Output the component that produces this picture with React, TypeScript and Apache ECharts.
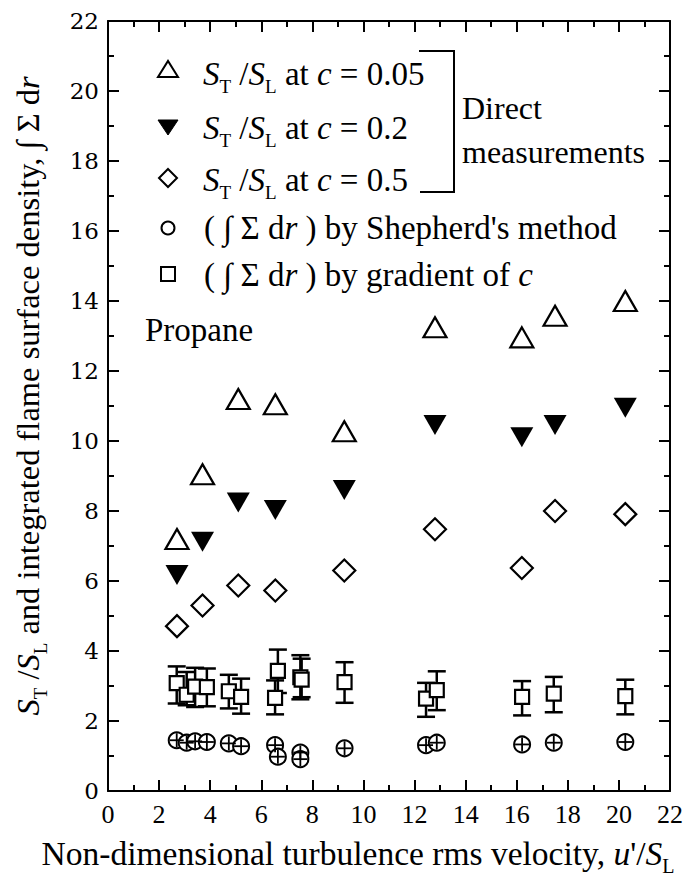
import React, { useEffect, useRef } from "react";
import * as echarts from "echarts";

// ---- data ----
const directX = [2.7, 3.7, 5.1, 6.55, 9.25, 12.8, 16.2, 17.5, 20.25];
const st005 = [7.2, 9.05, 11.2, 11.05, 10.28, 13.25, 12.96, 13.58, 14.0];
const st02 = [6.17, 7.12, 8.24, 8.03, 8.6, 10.46, 10.11, 10.46, 10.95];
const st05 = [4.71, 5.3, 5.87, 5.73, 6.3, 7.48, 6.37, 8.0, 7.91];

const shepX = [2.69, 3.08, 3.41, 3.87, 4.73, 5.21, 6.54, 6.65, 7.53, 7.53, 9.26, 12.45, 12.87, 16.21, 17.45, 20.25];
const shepY = [1.45, 1.38, 1.42, 1.4, 1.36, 1.28, 1.31, 0.98, 1.1, 0.91, 1.22, 1.31, 1.38, 1.33, 1.38, 1.4];

const gradX = [2.69, 3.08, 3.41, 3.87, 4.73, 5.21, 6.54, 6.65, 7.53, 7.58, 9.26, 12.45, 12.87, 16.21, 17.45, 20.25];
const gradY = [3.08, 2.75, 2.98, 2.97, 2.85, 2.69, 2.66, 3.43, 3.25, 3.18, 3.11, 2.64, 2.88, 2.69, 2.78, 2.71];
const gradHi = [3.56, 3.4, 3.52, 3.5, 3.32, 3.21, 3.16, 4.04, 3.88, 3.78, 3.68, 3.09, 3.42, 3.14, 3.26, 3.18];
const gradLo = [2.5, 2.45, 2.4, 2.42, 2.36, 2.21, 2.19, 2.8, 2.62, 2.68, 2.52, 2.12, 2.31, 2.16, 2.25, 2.19];

const axisMin = 0;
const axisMax = 22;
const axisStep = 2;

const SERIF = "'Liberation Serif', 'Times New Roman', serif";

const makeRich = (size: number, subSize: number, lh: number, pad: number) => ({
  n: { fontFamily: SERIF, fontSize: size, lineHeight: lh, fill: "#000" },
  i: { fontFamily: SERIF, fontSize: size, fontStyle: "italic", lineHeight: lh, fill: "#000" },
  sub: {
    fontFamily: SERIF,
    fontSize: subSize,
    lineHeight: 8,
    verticalAlign: "top",
    padding: [pad, 0, 0, 0],
    fill: "#000",
  },
});

export default function App() {
  const ref = useRef<HTMLDivElement>(null);
  useEffect(() => {
    if (!ref.current) return;
    const chart = echarts.init(ref.current, null, { renderer: "svg" });

    const axisCommon = (showLabel: boolean, labelFont: string, labelSize: number, margin: number) => ({
      type: "value" as const,
      min: axisMin,
      max: axisMax,
      interval: axisStep,
      axisLine: { show: true, onZero: false, lineStyle: { color: "#000", width: 2 } },
      axisTick: { show: true, inside: true, length: 11, lineStyle: { color: "#000", width: 2 } },
      minorTick: { show: true, splitNumber: 2, length: 6, lineStyle: { color: "#000", width: 2 } },
      splitLine: { show: false },
      minorSplitLine: { show: false },
      axisLabel: {
        show: showLabel,
        fontFamily: labelFont,
        fontSize: labelSize,
        color: "#000",
        margin,
      },
    });

    const legRich = makeRich(33, 19, 38, 22);
    const titleRich = makeRich(33.5, 20, 40, 23);
    const yRich = makeRich(32.5, 19, 38, 22);

    const option: any = {
      animation: false,
      backgroundColor: "#fff",
      grid: { left: 108, top: 21, width: 562, height: 770, containLabel: false, outerBoundsMode: "none" },
      xAxis: [
        { ...axisCommon(true, SERIF, 26, 10), position: "bottom" },
        { ...axisCommon(false, SERIF, 26, 10), position: "top" },
      ],
      yAxis: [
        { ...axisCommon(true, "'DejaVu Serif', serif", 23, 9), position: "left" },
        { ...axisCommon(false, SERIF, 23, 9), position: "right" },
      ],
      series: [
        {
          type: "custom",
          name: "grad-err",
          data: gradX.map((x, i) => [x, gradLo[i], gradHi[i]]),
          encode: { x: 0, y: [1, 2] },
          z: 2,
          renderItem: (_p: any, api: any) => {
            const x = api.value(0);
            const pLo = api.coord([x, api.value(1)]);
            const pHi = api.coord([x, api.value(2)]);
            const w = 9;
            const st = { stroke: "#000", lineWidth: 2.5 };
            return {
              type: "group",
              children: [
                { type: "line", shape: { x1: pHi[0], y1: pHi[1], x2: pLo[0], y2: pLo[1] }, style: st },
                { type: "line", shape: { x1: pHi[0] - w, y1: pHi[1], x2: pHi[0] + w, y2: pHi[1] }, style: st },
                { type: "line", shape: { x1: pLo[0] - w, y1: pLo[1], x2: pLo[0] + w, y2: pLo[1] }, style: st },
              ],
            };
          },
        },
        {
          type: "scatter",
          name: "grad",
          data: gradX.map((x, i) => [x, gradY[i]]),
          symbol: "rect",
          symbolSize: 14,
          itemStyle: { color: "#fff", borderColor: "#000", borderWidth: 2.2, opacity: 1 },
          z: 3,
        },
        {
          type: "scatter",
          name: "shep",
          data: shepX.map((x, i) => [x, shepY[i]]),
          symbol: "circle",
          symbolSize: 16,
          itemStyle: { color: "#fff", borderColor: "#000", borderWidth: 2, opacity: 1 },
          z: 3,
        },
        {
          type: "custom",
          name: "shep-err",
          data: shepX.map((x, i) => [x, shepY[i]]),
          z: 4,
          renderItem: (_p: any, api: any) => {
            const p = api.coord([api.value(0), api.value(1)]);
            const st = { stroke: "#000", lineWidth: 1.8 };
            return {
              type: "group",
              children: [
                { type: "line", shape: { x1: p[0] - 7, y1: p[1], x2: p[0] + 7, y2: p[1] }, style: st },
                { type: "line", shape: { x1: p[0], y1: p[1] - 7, x2: p[0], y2: p[1] + 7 }, style: st },
              ],
            };
          },
        },
        {
          type: "scatter",
          name: "c005",
          data: directX.map((x, i) => [x, st005[i]]),
          symbol: "triangle",
          symbolSize: [23, 20],
          itemStyle: { color: "#fff", borderColor: "#000", borderWidth: 2.2, opacity: 1 },
          z: 3,
        },
        {
          type: "scatter",
          name: "c02",
          data: directX.map((x, i) => [x, st02[i]]),
          symbol: "triangle",
          symbolRotate: 180,
          symbolSize: [23, 20],
          itemStyle: { color: "#000", opacity: 1 },
          z: 3,
        },
        {
          type: "scatter",
          name: "c05",
          data: directX.map((x, i) => [x, st05[i]]),
          symbol: "diamond",
          symbolSize: [22, 22],
          itemStyle: { color: "#fff", borderColor: "#000", borderWidth: 2.2, opacity: 1 },
          z: 3,
        },
      ],
      graphic: [
        // legend markers
        { type: "polygon", shape: { points: [[158, 77], [178, 77], [168, 61]] }, style: { fill: "none", stroke: "#000", lineWidth: 2 } },
        { type: "polygon", shape: { points: [[158, 120], [178, 120], [168, 135]] }, style: { fill: "#000", stroke: "#000", lineWidth: 1 } },
        { type: "polygon", shape: { points: [[168, 169], [177, 178], [168, 187], [159, 178]] }, style: { fill: "none", stroke: "#000", lineWidth: 2 } },
        { type: "circle", shape: { cx: 168, cy: 228, r: 6.5 }, style: { fill: "none", stroke: "#000", lineWidth: 2 } },
        { type: "rect", shape: { x: 161, y: 267, width: 14, height: 14 }, style: { fill: "none", stroke: "#000", lineWidth: 2 } },
        // legend texts
        {
          type: "text", x: 203, y: 74,
          style: { text: "{i|S}{sub|T}{n| /}{i|S}{sub|L}{n| at }{i|c}{n| = 0.05}", rich: legRich, verticalAlign: "middle", align: "left" },
        },
        {
          type: "text", x: 203, y: 128,
          style: { text: "{i|S}{sub|T}{n| /}{i|S}{sub|L}{n| at }{i|c}{n| = 0.2}", rich: legRich, verticalAlign: "middle", align: "left" },
        },
        {
          type: "text", x: 203, y: 180,
          style: { text: "{i|S}{sub|T}{n| /}{i|S}{sub|L}{n| at }{i|c}{n| = 0.5}", rich: legRich, verticalAlign: "middle", align: "left" },
        },
        {
          type: "text", x: 204, y: 228,
          style: { text: "{n|( ∫ Σ d}{i|r}{n| ) by Shepherd's method}", rich: legRich, verticalAlign: "middle", align: "left" },
        },
        {
          type: "text", x: 204, y: 275,
          style: { text: "{n|( ∫ Σ d}{i|r}{n| ) by gradient of }{i|c}", rich: legRich, verticalAlign: "middle", align: "left" },
        },
        // bracket
        {
          type: "polyline",
          shape: { points: [[419, 51], [454, 51], [454, 192], [420, 192]] },
          style: { fill: "none", stroke: "#000", lineWidth: 2 },
        },
        { type: "text", x: 462, y: 108, style: { text: "Direct", font: `32px ${SERIF}`, fill: "#000", verticalAlign: "middle", align: "left" } },
        { type: "text", x: 462, y: 152, style: { text: "measurements", font: `32px ${SERIF}`, fill: "#000", verticalAlign: "middle", align: "left" } },
        { type: "text", x: 145, y: 330, style: { text: "Propane", font: `33px ${SERIF}`, fill: "#000", verticalAlign: "middle", align: "left" } },
        // axis titles
        {
          type: "text", x: 358, y: 853,
          style: {
            text: "{n|Non-dimensional turbulence rms velocity, }{i|u}{n|'/}{i|S}{sub|L}",
            rich: titleRich, verticalAlign: "middle", align: "center",
          },
        },
        {
          type: "text", x: 28, y: 396, rotation: Math.PI / 2,
          style: {
            text: "{i|S}{sub|T}{n| /}{i|S}{sub|L}{n| and integrated flame surface density, ∫ Σ d}{i|r}",
            rich: yRich, verticalAlign: "middle", align: "center",
          },
        },
      ],
    };
    chart.setOption(option);
    return () => chart.dispose();
  }, []);
  return <div ref={ref} style={{ position: "absolute", left: 0, top: 0, width: 687, height: 893 }} />;
}
